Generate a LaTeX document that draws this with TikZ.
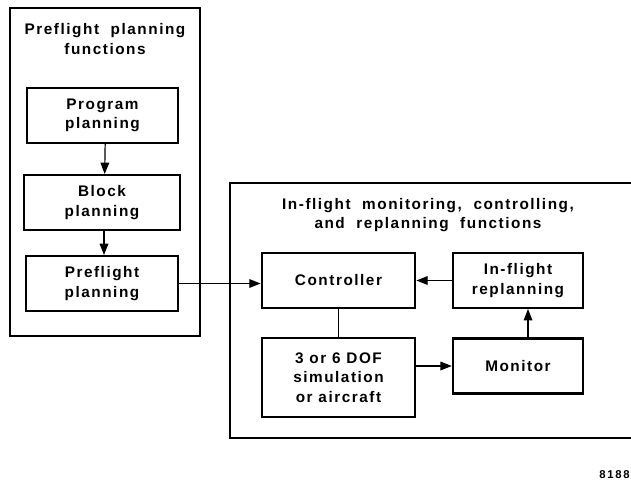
\documentclass[tikz,border=0pt]{standalone}
\usepackage{fontspec}
\setmainfont{Liberation Sans}[LetterSpace=10]
\usetikzlibrary{arrows.meta}
\begin{document}
\begin{tikzpicture}[x=0.75pt,y=-0.75pt,
  every node/.style={font=\bfseries\fontsize{11.5}{14.5}\selectfont, align=center, inner sep=0pt},
  blk/.style={draw, line width=1.8pt, minimum width=#1, minimum height=41pt},
  outer/.style={line width=1.1pt},
  conn/.style={line width=0.9pt},
  arr/.style={conn, -{Triangle[length=8.5pt,width=6.5pt]}}]
\useasboundingbox (0,0) rectangle (631,481);
% left group
\draw[outer] (10,8) rectangle (200,336);
\node (ltitle) at (105,39) {Preflight\ \ planning\\functions};
\node[blk=113pt] (prog) at (102.5,115.5) {Program\\planning};
\node[blk=117pt] (block) at (102,202.5) {Block\\planning};
\node[blk=114pt] (pre) at (102,283.5) {Preflight\\planning};
% right group
\draw[outer] (631,183) -- (230,183) -- (230,438) -- (631,438);
\node (rtitle) at (428,215) {In-flight\ \ monitoring,\ \ controlling,\\and\ \ replanning\ \ functions};
\node[blk=115pt] (ctrl) at (338.5,280.5) {Controller};
\node[blk=97.5pt] (repl) at (518,280.5) {In-flight\\replanning};
\node[blk=115pt, minimum height=59pt] (dof) at (338.5,377.5) {3 or 6 DOF\\simulation\\or aircraft};
\node[blk=97.5pt] (mon) at (518,366) {Monitor};
% connectors
\draw[arr] ([xshift=2pt]prog.south) -- ([xshift=2pt]block.north);
\draw[arr] ([xshift=1.5pt]block.south) -- ([xshift=1.5pt]pre.north);
\draw[arr] (pre.east) -- (pre.east -| ctrl.west);
\draw[arr] (repl.west) -- (repl.west -| ctrl.east);
\draw[conn] (ctrl.south) -- (dof.north);
\draw[arr] (dof.east |- mon.west) -- (mon.west);
\draw[arr] ([xshift=7.5pt]mon.north) -- ([xshift=7.5pt]repl.south);
\node[anchor=south east, font=\bfseries\fontsize{8.5}{9}\selectfont\addfontfeature{LetterSpace=15}] (fig) at (630,479) {8188};
\end{tikzpicture}
\end{document}
